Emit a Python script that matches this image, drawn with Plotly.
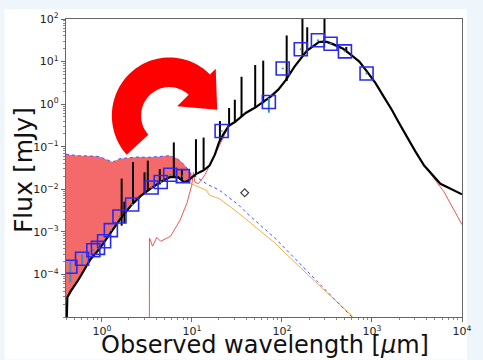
import math
import plotly.graph_objects as go

# ---------------- data (wavelength in micron, flux in mJy) ----------------
total_wl = [0.407, 0.414, 0.45, 0.513, 0.55, 0.661, 0.75, 0.933, 1.1, 1.288, 1.6, 2.138,
            2.7, 3.508, 4.5, 5.754, 7.079, 8.128, 9.0, 10.0, 11.22, 13.5, 15.7, 18.0, 20.0,
            22.5, 25.7, 30, 35, 40, 50, 60, 75, 91, 110, 138, 165, 190, 225, 257, 290, 316,
            380, 479, 600, 724, 900, 1096, 1350, 1660, 2000, 2512, 3020, 3800, 4700, 5754,
            7000, 8710, 10000]
total_flux = [8e-6, 2.9e-5, 4.0e-5, 5.9e-5, 7.5e-5, 1.45e-4, 2.3e-4, 3.9e-4, 6.5e-4, 1.02e-3,
              2.0e-3, 4.3e-3, 7.0e-3, 0.0105, 0.0148, 0.0195, 0.019, 0.0148, 0.0155, 0.019,
              0.023, 0.028, 0.036, 0.065, 0.126, 0.2, 0.31, 0.38, 0.5, 0.63, 0.82, 1.07, 1.5,
              2.19, 3.6, 7.6, 12.3, 18.2, 23.5, 28.8, 29.5, 29.0, 25.0, 20.0, 13.8, 10.0, 5.5,
              3.1, 1.5, 0.74, 0.36, 0.151, 0.079, 0.036, 0.022, 0.0135, 0.011, 0.0087, 0.0076]

# emission lines: wavelength, continuum base, peak
line_wl = [1.66, 1.78, 2.22, 2.98, 3.24, 4.4, 6.3, 7.75, 11.1, 13.5, 20.5, 25.9, 30, 35.6,
           50.5, 62, 113, 169, 191, 297, 519]
line_base = [1.4e-3, 1.6e-3, 4.5e-3, 8e-3, 9e-3, 0.013, 0.02, 0.017, 0.023, 0.03, 0.14,
             0.31, 0.4, 0.5, 0.8, 1.05, 3.5, 14, 18, 29, 18]
line_peak = [0.0178, 5.1e-3, 0.0437, 0.025, 0.047, 0.030, 0.126, 0.030, 0.15, 0.164, 0.40,
             0.81, 1.27, 4.4, 8.3, 10.5, 41, 300, 64, 300, 22]

# unattenuated stellar (blue dotted)
star_wl = [0.40, 0.437, 0.50, 0.562, 0.794, 0.933, 1.122, 1.318, 1.413, 1.585, 1.995, 2.512,
           3.162, 3.981, 5.012, 5.754, 6.607, 7.586, 8.511, 9.333, 10.0, 11.22, 14.45, 20.18,
           33.1, 40.7, 83.2, 190.5, 589, 631]
star_flux = [0.0676, 0.0646, 0.0631, 0.0617, 0.0603, 0.0589, 0.0501, 0.0437, 0.0468, 0.0525,
             0.055, 0.0575, 0.0562, 0.0575, 0.0603, 0.0617, 0.055, 0.0447, 0.0347, 0.0263,
             0.0219, 0.0195, 0.0135, 0.00955, 0.00427, 0.00275, 7.24e-4, 1.20e-4, 1.05e-5, 8.9e-6]

# attenuated stellar (orange)
att_wl = [0.40, 0.414, 0.513, 0.661, 0.933, 1.288, 2.138, 3.508, 5.754, 7.079, 8.128, 9.55,
          11.22, 14.45, 15.7, 20.18, 33.1, 83.2, 190.5, 589, 631]
att_flux = [2.5e-5, 2.9e-5, 5.9e-5, 1.45e-4, 3.9e-4, 1.02e-3, 4.27e-3, 0.0105, 0.0191, 0.0186,
            0.0158, 0.0138, 0.0123, 0.00955, 0.00724, 0.00603, 0.00275, 5.5e-4, 1.02e-4,
            1.1e-5, 8.9e-6]

# dust emission (red)
dust_wl = [3.37, 3.38, 3.66, 4.08, 4.5, 5.8, 7.4, 8.8, 9.95, 10.4, 10.8, 11.8, 13.9, 17.1, 20.2,
           25.7, 40, 60, 91, 138, 190, 257, 316, 479, 724, 1096, 1660, 2512, 3548, 6310, 10000]
dust_flux = [1e-7, 7.2e-4, 4.6e-4, 7.4e-4, 6.0e-4, 7.9e-4, 1.9e-3, 4.7e-3, 0.0123, 0.025,
             0.0148, 0.0135, 0.0214, 0.051, 0.105, 0.30, 0.62, 1.05, 2.15, 7.5, 18, 28.5, 29,
             19.8, 9.9, 3.05, 0.72, 0.145, 0.045, 0.0087, 0.00148]

# observed photometry
obs_wl = [0.447, 0.603, 0.805, 0.906, 1.06, 1.26, 1.57, 2.17, 3.57, 4.51, 5.75, 7.94, 21.4,
          71.6, 102, 162, 251, 347, 501, 871]
obs_flux = [1.51e-4, 2.34e-4, 3.7e-4, 4.2e-4, 6.0e-4, 1.10e-3, 2.29e-3, 4.4e-3, 0.011, 0.0148,
            0.0219, 0.0204, 0.234, 1.12, 6.9, 19.5, 31.6, 26.3, 17.4, 5.25]
obs_err_hi = [0.53e-4, 0.61e-4, 0.2e-4, 0.2e-4, 0.2e-4, 0.5e-4, 1e-4, 2e-4, 5e-4, 7e-4, 1e-3,
              1e-3, 0.01, 0.27, 0.3, 0.9, 1.5, 1.2, 0.8, 0.25]
obs_err_lo = [0.86e-4, 0.60e-4, 0.2e-4, 0.2e-4, 0.2e-4, 0.5e-4, 1e-4, 2e-4, 5e-4, 7e-4, 1e-3,
              1e-3, 0.01, 0.49, 0.3, 0.9, 1.5, 1.2, 0.8, 0.25]

# extra point
extra_wl = [38.6]
extra_flux = [8.3e-3]

x_tickvals = [1, 10, 100, 1000, 10000]
x_ticktext = ["10<sup>0</sup>", "10<sup>1</sup>", "10<sup>2</sup>", "10<sup>3</sup>", "10<sup>4</sup>"]
y_tickvals = [1e-4, 1e-3, 1e-2, 1e-1, 1, 10, 100]
y_ticktext = ["10<sup>\u22124</sup>", "10<sup>\u22123</sup>", "10<sup>\u22122</sup>",
              "10<sup>\u22121</sup>", "10<sup>0</sup>", "10<sup>1</sup>", "10<sup>2</sup>"]
x_title = "Observed wavelength [<i>\u03bc</i>m]"
y_title = "Flux [mJy]"

# ---------------- figure ----------------
fig = go.Figure()

fill_cut = 10.5
fx = [w for w in star_wl if w <= fill_cut] + [w for w in att_wl if w <= fill_cut][::-1]
fy = [f for w, f in zip(star_wl, star_flux) if w <= fill_cut] + \
     [f for w, f in zip(att_wl, att_flux) if w <= fill_cut][::-1]
fig.add_trace(go.Scatter(x=fx, y=fy, fill="toself", fillcolor="#f46a6a", mode="none",
                         hoverinfo="skip", showlegend=False))

fig.add_trace(go.Scatter(x=att_wl, y=att_flux, mode="lines",
                         line=dict(color="#f5b041", width=1), showlegend=False))
fig.add_trace(go.Scatter(x=star_wl, y=star_flux, mode="lines",
                         line=dict(color="#4455ff", width=1, dash="dot"), showlegend=False))
fig.add_trace(go.Scatter(x=dust_wl, y=dust_flux, mode="lines",
                         line=dict(color="#f05555", width=1), showlegend=False))

sx, sy = [], []
for w, b, p in zip(line_wl, line_base, line_peak):
    sx += [w, w, None]
    sy += [b, p, None]
fig.add_trace(go.Scatter(x=sx, y=sy, mode="lines", line=dict(color="black", width=2),
                         showlegend=False))
fig.add_trace(go.Scatter(x=total_wl, y=total_flux, mode="lines",
                         line=dict(color="black", width=2.2), showlegend=False))

fig.add_trace(go.Scatter(x=obs_wl, y=obs_flux, mode="markers",
                         marker=dict(symbol="square-open", size=13, color="#2a2aee",
                                     line=dict(width=1.6, color="#2a2aee")),
                         error_y=dict(type="data", symmetric=False, array=obs_err_hi,
                                      arrayminus=obs_err_lo, color="#3a8ac8", thickness=2,
                                      width=0),
                         showlegend=False))
fig.add_trace(go.Scatter(x=extra_wl, y=extra_flux, mode="markers",
                         marker=dict(symbol="diamond-open", size=6, color="#444444",
                                     line=dict(width=1.2, color="#444444")),
                         showlegend=False))

# ---------------- decorations ----------------
W, H = 483, 360
ML, MR, MT, MB = 66, 11, 15, 43
PW, PH = W - ML - MR, H - MT - MB


def px2paper(px, py):
    return (px - ML) / PW, (H - MB - py) / PH


cx, cy, Ro, Ri = 172.0, 113.0, 59.0, 29.0
pts = []
a = 222.0
while a >= 45.2:
    r = math.radians(a)
    pts.append((cx + Ro * math.cos(r), cy - Ro * math.sin(r)))
    a -= 3
r = math.radians(45.2)
pts.append((cx + Ro * math.cos(r), cy - Ro * math.sin(r)))
pts += [(219.5, 65.5), (221.0, 107.0), (180.0, 103.5)]
a = 47.0
while a <= 222.0:
    r = math.radians(a)
    pts.append((cx + Ri * math.cos(r), cy - Ri * math.sin(r)))
    a += 3
r = math.radians(222.0)
pts.append((cx + Ri * math.cos(r), cy - Ri * math.sin(r)))
path = ""
for i, (px, py) in enumerate(pts):
    u, v = px2paper(px, py)
    path += ("M" if i == 0 else "L") + f"{u:.5f},{v:.5f} "
path += "Z"

bx0, by0 = px2paper(3, 360)
bx1, by1 = px2paper(477, 5)
tx, ty = px2paper(270, 345.5)
yx, yy = px2paper(23, 168)

fig.update_layout(
    width=W, height=H,
    margin=dict(l=ML, r=MR, t=MT, b=MB),
    paper_bgcolor="#eef6fb", plot_bgcolor="white",
    font=dict(family="DejaVu Sans", color="#222222"),
    shapes=[
        dict(type="rect", xref="paper", yref="paper", x0=bx0, y0=by0, x1=bx1, y1=by1,
             fillcolor="white", line=dict(width=0), layer="below"),
        dict(type="path", xref="paper", yref="paper", path=path, fillcolor="#ff0000",
             line=dict(width=0), layer="above"),
    ],
    annotations=[
        dict(text=x_title, xref="paper", yref="paper", x=tx, y=ty, xanchor="center",
             yanchor="middle", showarrow=False, font=dict(size=24, color="#111111")),
        dict(text=y_title, xref="paper", yref="paper", x=yx, y=yy, xanchor="center",
             yanchor="middle", textangle=-90, showarrow=False,
             font=dict(size=25, color="#111111")),
    ],
)

axis_common = dict(type="log", showgrid=False, zeroline=False, showline=True,
                   linecolor="#666666", linewidth=1.2, mirror=True, ticks="outside",
                   ticklen=4, tickcolor="#666666", tickwidth=1,
                   tickfont=dict(size=11, color="#222222"),
                   minor=dict(ticks="outside", ticklen=2, tickcolor="#888888", dtick="D1",
                              showgrid=False))

fig.update_xaxes(range=[math.log10(0.4), 4], tickmode="array", tickvals=x_tickvals,
                 ticktext=x_ticktext, ticklabelstandoff=0, **axis_common)
fig.update_yaxes(range=[-5, 2], tickmode="array", tickvals=y_tickvals, ticktext=y_ticktext,
                 **axis_common)

fig.write_html("out.html")
